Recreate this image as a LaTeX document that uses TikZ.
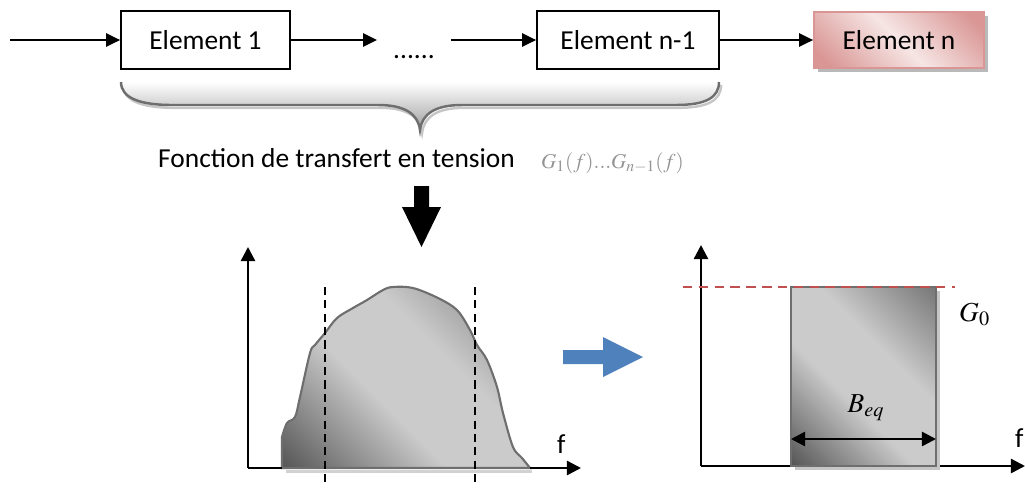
\documentclass[tikz,border=0pt]{standalone}
\usepackage{mathptmx}
\usepackage[no-math]{fontspec}
\setmainfont{Carlito}
\usetikzlibrary{arrows.meta,positioning,shadows}

\definecolor{darkgr}{HTML}{575757}
\definecolor{lightgr}{HTML}{CBCBCB}
\definecolor{midgr}{HTML}{6E6E6E}
\definecolor{pinkdark}{HTML}{D99694}
\definecolor{pinklight}{HTML}{F6E6E5}
\definecolor{edgegr}{HTML}{6E6E6E}
\definecolor{arrowblue}{HTML}{4F81BD}
\definecolor{dashred}{HTML}{C0504D}

\pgfdeclarehorizontalshading{grayband}{100bp}{color(0bp)=(darkgr); color(15bp)=(darkgr); color(42bp)=(lightgr); color(60bp)=(lightgr); color(88bp)=(midgr); color(100bp)=(midgr)}
\pgfdeclarehorizontalshading{pinkband}{100bp}{color(0bp)=(pinkdark); color(20bp)=(pinkdark); color(50bp)=(pinklight); color(80bp)=(pinkdark); color(100bp)=(pinkdark)}

\tikzset{
  elem/.style={draw, line width=1pt, minimum height=1.16cm, inner sep=0pt},
  lastelem/.style={elem, draw=pinkdark, shading=pinkband, shading angle=45,
    drop shadow={shadow xshift=2pt, shadow yshift=-2.2pt, fill=gray!55, opacity=1}},
  flow/.style={line width=1.25pt, -{Triangle[length=8pt,width=7.5pt]}},
  axis/.style={line width=1.4pt, -{Triangle[length=8pt,width=8pt]}},
  cutline/.style={line width=1.4pt, dash pattern=on 4.6pt off 3pt},
  gainline/.style={line width=1.3pt, dashred, dash pattern=on 5.4pt off 3.6pt},
  widtharrow/.style={line width=1.4pt, {Triangle[length=8pt,width=8pt]}-{Triangle[length=8pt,width=8pt]}},
  gshade/.style={shading=grayband, shading angle=45, draw=edgegr, line width=1.2pt}
}

\begin{document}
\begin{tikzpicture}[x=0.02cm, y=-0.02cm, every node/.style={font=\fontsize{15.6}{18}\selectfont}]
\useasboundingbox (0,0) rectangle (1025,491);

% Chain of elements
\coordinate (in) at (10,40);
\node[elem, minimum width=3.38cm] (e1) at (205.5,40) {Element 1};
\node[inner xsep=9pt, inner ysep=0pt] (dots) at (414,40) {\vphantom{Element}\raisebox{-5.4pt}[0pt][0pt]{......}};
\node[elem, minimum width=3.64cm] (e2) at (628,40) {Element n-1};
\node[lastelem, minimum width=3.4cm, minimum height=1.12cm] (en) at (899,40) {Element n};

\draw[flow] (in) -- (e1);
\draw[flow] (e1) -- (dots);
\draw[flow] (dots) -- (e2);
\draw[flow] (e2) -- (en);

% Brace under the first n-1 elements
\shade[top color=white, bottom color=gray!75, draw=edgegr, line width=1.4pt,
  preaction={draw=gray!45, line width=1.4pt, transform canvas={shift={(1.2pt,-1.6pt)}}}]
  (121,82) .. controls (121,98) and (140,105) .. (172,105) -- (378,105)
  .. controls (405,105) and (418,114) .. (420,130)
  .. controls (422,114) and (435,105) .. (462,105) -- (676,105)
  .. controls (705,105) and (719,98) .. (719,82);

% Transfer function label
\node[anchor=base west] (ftlabel) at (152,167) {Fonction de transfert en tension};
\node[anchor=base west, text=gray!85, font=\fontsize{12}{14}\selectfont] (glabel) at (535,168) {$G_1(f)...G_{n-1}(f)$};

% Big arrow down
\fill (414,186) -- (429,186) -- (429,207) -- (441,207) -- (421.5,247) -- (402,207) -- (414,207) -- cycle;

% Real gain curve
\coordinate (o1) at (248,468);
\coordinate (y1) at (248,247);
\coordinate (x1) at (581,468);
\draw[gray!35, line width=1.6pt] (286,471.5) -- (532,471.5);
\shade[gshade] (282,468) -- plot[smooth, tension=0.55] coordinates {
  (282,437) (287,423) (295,417) (300,397) (310,353) (315,345) (325,333)
  (337,318) (353,308) (367,300) (383,290) (393,287) (413,288) (438,298)
  (457,310) (470,330) (477,345) (487,360) (497,387) (503,413) (513,447)
  (522,458) (530,468)} -- cycle;
\draw[axis] (o1) -- (y1);
\draw[axis] (o1) -- (x1);
\draw[edgegr, line width=1.2pt] (282,468) -- (530,468);
\draw[cutline] (325,287) -- (325,484);
\draw[cutline] (475,287) -- (475,484);
\node[anchor=base west] (f1) at (551,453) {f};

% Blue arrow
\fill[arrowblue] (563,350) -- (603,350) -- (603,337) -- (643,357) -- (603,377) -- (603,364) -- (563,364) -- cycle;

% Equivalent rectangle
\coordinate (o2) at (701,466);
\coordinate (y2) at (701,245);
\coordinate (x2) at (1025,466);
\draw[axis] (o2) -- (y2);
\draw[axis] (o2) -- (x2);
\shade[gshade, line width=1.4pt, preaction={fill=gray!45, transform canvas={shift={(2.4pt,-2.4pt)}}}]
  (791,287) rectangle (936,466);
\draw[gainline] (683,287) -- (955,287);
\node[anchor=base west] (g0) at (953,321) {$G_0$};
\coordinate (bl) at (791,439);
\coordinate (br) at (936,439);
\draw[widtharrow] (bl) -- (br);
\node[anchor=base] (beq) at (866,412) {$B_{eq}$};
\node[anchor=base west] (f2) at (1009,447) {f};

\end{tikzpicture}
\end{document}
